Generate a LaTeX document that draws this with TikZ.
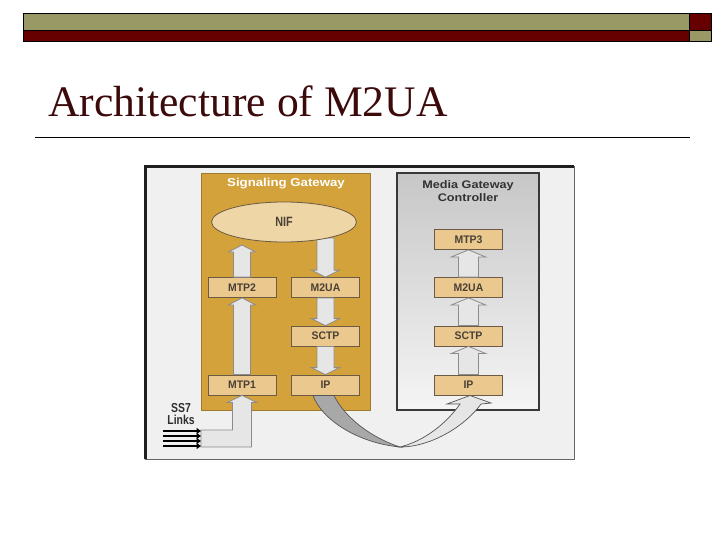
\documentclass[tikz,border=0pt]{standalone}
\usepackage{fontspec}
\setmainfont{Liberation Serif}
\newfontfamily\hdfont[FakeStretch=1.15]{Liberation Sans}
\newfontfamily\lblfont[FakeStretch=0.95]{Liberation Sans}
\newfontfamily\ssfont[FakeStretch=0.8]{Liberation Sans}
\usetikzlibrary{shapes.geometric,arrows.meta,calc}
\definecolor{olivebar}{HTML}{999966}
\definecolor{maroonbar}{HTML}{660000}
\definecolor{titlecol}{HTML}{3C0A0A}
\definecolor{framebg}{HTML}{F0F0F0}
\definecolor{sggold}{HTML}{D4A23A}
\definecolor{layerfill}{HTML}{EBC98E}
\definecolor{layerdraw}{HTML}{6B5A45}
\definecolor{layertext}{HTML}{4A4036}
\definecolor{niffill}{HTML}{EFD6A6}
\definecolor{blkfill}{HTML}{E6E6E6}
\definecolor{blkdraw}{HTML}{8C8C8C}
\definecolor{ribdark}{HTML}{A8A8A8}
\definecolor{ribdraw}{HTML}{555555}
\tikzset{
  layer/.style={draw=layerdraw, line width=0.8pt, fill=layerfill, minimum width=68pt, minimum height=20pt, inner sep=0pt, text=layertext, font=\lblfont\bfseries\fontsize{11}{13}\selectfont},
  blk/.style={draw=blkdraw, fill=blkfill, line width=0.8pt, line join=miter},
  ss7line/.style={line width=2.8pt, draw=black, -{Triangle[length=4.5pt,width=6pt]}},
}
\newcommand\myUpBlk[4]{\path[blk] let \p1=#1, \p2=#2 in (\x2-#3,\y1) -- (\x2-#3,\y2-7pt) -- (\x2-#4,\y2-7pt) -- (\x2,\y2) -- (\x2+#4,\y2-7pt) -- (\x2+#3,\y2-7pt) -- (\x2+#3,\y1) -- cycle;}
\newcommand\myDownBlk[4]{\path[blk] let \p1=#1, \p2=#2 in (\x2-#3,\y1) -- (\x2-#3,\y2+7pt) -- (\x2-#4,\y2+7pt) -- (\x2,\y2) -- (\x2+#4,\y2+7pt) -- (\x2+#3,\y2+7pt) -- (\x2+#3,\y1) -- cycle;}
\begin{document}
\begin{tikzpicture}[x=1pt,y=-1pt]
\useasboundingbox (0,0) rectangle (720,540);
% top bars
\draw[fill=olivebar, line width=0.8pt] (23,13) rectangle (689,30.5);
\draw[fill=maroonbar, line width=0.8pt] (23,30.5) rectangle (689,41);
\draw[fill=maroonbar, line width=0.8pt] (689,13) rectangle (711,30.5);
\draw[fill=olivebar, line width=0.8pt] (689,30.5) rectangle (711,41);
% title
\node[anchor=base west, inner sep=0pt, text=titlecol, font=\fontsize{43.6}{50}\selectfont] (title) at (48,117) {Architecture of M2UA};
\draw[line width=1pt] (35,137.5) -- (690,137.5);
% frame
\fill[framebg] (145,167) rectangle (574,459);
\draw[line width=1pt, draw=black!60] (145,167) rectangle (574,459);
\draw[line width=3pt, draw=black!88] (145,459) -- (145,167) -- (574,167);
% containers
\node[fill=sggold, draw=sggold!75!black, line width=0.5pt, minimum width=169pt, minimum height=237pt, inner sep=0pt] (sg) at (285.5,291.5) {};
\node[top color=black!22, bottom color=black!4, draw=black!78, line width=1.2pt, minimum width=142pt, minimum height=237pt, inner sep=0pt] (mgc) at (468,291.5) {};
\node[text=white, font=\hdfont\bfseries\fontsize{11.5}{13}\selectfont] (sgl) at (286,184) {Signaling Gateway};
\node[text=black!80, align=center, font=\hdfont\bfseries\fontsize{11}{13}\selectfont] (mgcl) at (468,191.5) {Media Gateway\\Controller};
% layer boxes
\node[layer] (mtp2) at (242,287.5) {MTP2};
\node[layer] (m2ua) at (325.5,287.5) {M2UA};
\node[layer] (sctp) at (325.5,336) {SCTP};
\node[layer] (mtp1) at (242,385) {MTP1};
\node[layer] (ip) at (325.5,385) {IP};
\node[layer] (mtp3) at (468.5,239.5) {MTP3};
\node[layer] (m2uab) at (468.5,287.5) {M2UA};
\node[layer] (sctpb) at (468.5,336) {SCTP};
\node[layer] (ipb) at (468.5,385) {IP};
% NIF ellipse position
\coordinate (nifc) at (284,222);
\coordinate (nifs) at (284,242);
% block arrows in SG
\myUpBlk{(mtp2.north)}{([yshift=-3pt]mtp2.north |- nifs)}{8.5pt}{13.5pt}
\myUpBlk{(mtp1.north)}{(mtp2.south)}{8.5pt}{13.5pt}
\myDownBlk{([yshift=4pt]m2ua.north |- nifs)}{(m2ua.north)}{8.5pt}{14pt}
\myDownBlk{(m2ua.south)}{(sctp.north)}{8.5pt}{14pt}
\myDownBlk{(sctp.south)}{(ip.north)}{8.5pt}{14pt}
% block arrows in MGC
\myUpBlk{(ipb.north)}{(sctpb.south)}{10pt}{17pt}
\myUpBlk{(sctpb.north)}{(m2uab.south)}{10pt}{17pt}
\myUpBlk{(m2uab.north)}{(mtp3.south)}{10pt}{17pt}
% NIF
\node[ellipse, draw=layerdraw, line width=0.8pt, fill=niffill, minimum width=145pt, minimum height=40pt, inner sep=0pt, text=layertext, font=\ssfont\bfseries\fontsize{13.5}{16}\selectfont] (nif) at (nifc) {NIF};
% SS7 links
\coordinate (barL) at (201,430);
\coordinate (barB) at (201,447);
\path[blk] let \p1=(mtp1.south), \p2=(barL), \p3=(barB) in
  (\x2,\y2) -- (\x1-9.5pt,\y2) -- (\x1-9.5pt,\y1-7pt) -- (\x1-14.5pt,\y1-7pt) -- (\x1,\y1)
  -- (\x1+14.5pt,\y1-7pt) -- (\x1+9.5pt,\y1-7pt) -- (\x1+9.5pt,\y3) -- (\x2,\y3) -- cycle;
\foreach \i/\yy in {1/431,2/436,3/441,4/446}{
  \coordinate (ls\i) at (163,\yy);
  \coordinate (le\i) at (201,\yy);
  \draw[ss7line] (ls\i) -- (le\i);
}
\node[align=center, text=black!82, inner sep=0pt, font=\ssfont\bfseries\fontsize{13}{12}\selectfont] (ss7) at (181,414) {SS7\\Links};
% ribbon from SG IP to MGC IP
\draw[fill=ribdark, draw=ribdraw, line width=0.7pt] (313,395.5) .. controls (322,420) and (358,443) .. (400,447) .. controls (372,438) and (345,418) .. (334,395.5) -- cycle;
\draw[fill=blkfill, draw=ribdraw, line width=0.7pt, line join=miter] (400,447) .. controls (432,447) and (466,425) .. (481,404) -- (491,403) -- (470,395.5) -- (447,404) -- (460,404) .. controls (446,424) and (424,441) .. (400,447) -- cycle;
\end{tikzpicture}
\end{document}
